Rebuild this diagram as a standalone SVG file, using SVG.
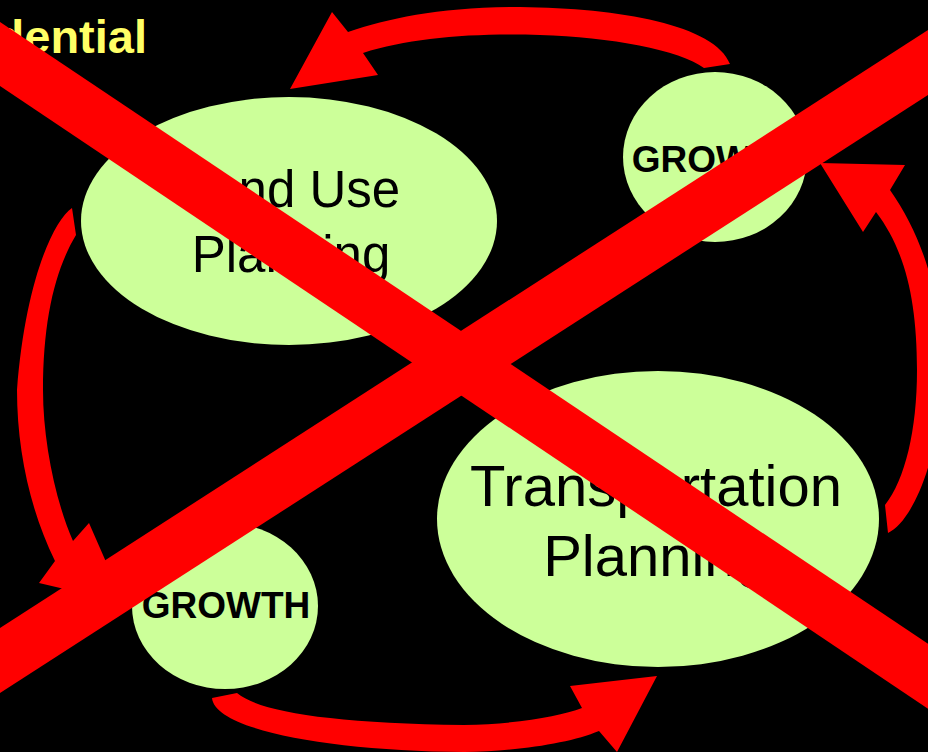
<svg xmlns="http://www.w3.org/2000/svg" width="928" height="752" viewBox="0 0 928 752">
  <style>
    .node { fill: #CCFF99; }
    .big { font-family: "Liberation Sans", Arial, sans-serif; fill: #000; text-anchor: middle; }
    .small { font-family: "Liberation Sans", Arial, sans-serif; font-weight: bold; font-size: 37px; fill: #000; text-anchor: middle; }
    .arrow { fill: #FF0000; }
    .cross { fill: #FF0000; }
  </style>
  <rect x="0" y="0" width="928" height="752" fill="#000"/>
  <text x="147" y="53" font-family="'Liberation Sans', Arial, sans-serif" font-weight="bold" font-size="47" fill="#FFFF66" text-anchor="end">dential</text>

  <g id="land-use">
    <ellipse class="node" cx="289" cy="221" rx="208" ry="124"/>
    <text class="big" font-size="51" x="291" y="207">Land Use</text>
    <text class="big" font-size="51" x="291" y="272">Planning</text>
  </g>
  <g id="growth-top">
    <ellipse class="node" cx="715" cy="157" rx="92" ry="85"/>
    <text class="small" x="716" y="172">GROWTH</text>
  </g>
  <g id="transportation">
    <ellipse class="node" cx="658" cy="519" rx="221" ry="148"/>
    <text class="big" font-size="58" x="656" y="506">Transportation</text>
    <text class="big" font-size="58" x="656" y="576">Planning</text>
  </g>
  <g id="growth-bottom">
    <ellipse class="node" cx="225" cy="606" rx="93" ry="83"/>
    <text class="small" x="226" y="618">GROWTH</text>
  </g>

  <g id="connectors">
    <path class="arrow" d="M 730,64 C 715,25 620,8 520,7 C 440,7 390,18 348,32 L 332,12 L 290,89 L 378,75 L 363,53 C 410,38 470,33 540,35 C 610,37 680,50 704,68 Z"/>
    <path class="arrow" d="M 888,533 C 915,520 942,450 942,370 C 942,300 925,240 890,190 L 905,165 L 820,163 L 863,232 L 876,212 C 905,250 917,300 917,370 C 917,430 905,480 885,505 Z"/>
    <path class="arrow" d="M 76,235 L 72,208 C 52,222 25,285 17,390 C 17,450 30,510 55,561 L 39,583 L 124,603 L 89,523 L 73,541 C 55,500 43,440 43,390 C 43,320 55,270 76,235 Z"/>
    <path class="arrow" d="M 212,698 L 237,693 C 260,712 330,723 464,725 C 520,724 560,716 582,708 L 570,686 L 657,676 L 617,752 L 599,731 C 570,743 520,751 464,752 C 330,751 215,730 212,698 Z"/>
  </g>

  <g id="cross-out">
    <polygon class="cross" points="-10,15.3 940,651.8 940,716.7 -10,79.3"/>
    <polygon class="cross" points="-10,634.4 940,22.3 940,87.3 -10,699.4"/>
  </g>
</svg>
